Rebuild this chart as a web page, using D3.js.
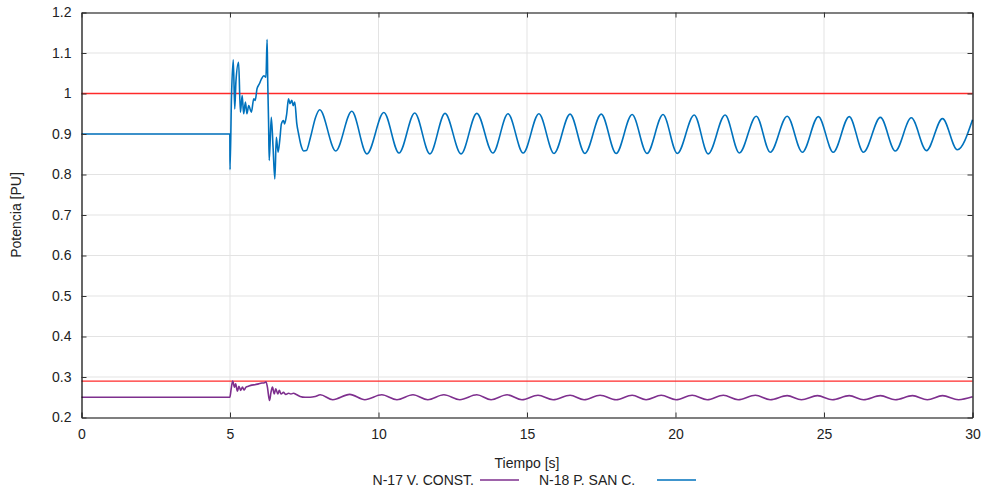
<!DOCTYPE html>
<html>
<head>
<meta charset="utf-8">
<script src="https://cdn.jsdelivr.net/npm/d3@7/dist/d3.min.js"></script>
<style>
  html, body { margin: 0; padding: 0; background: #fff; }
  svg text { font-family: "Liberation Sans", Arial, sans-serif; fill: #222; }
</style>
</head>
<body>
<svg id="chart" width="985" height="491"></svg>
<script>
// ---- data ----
const xTicks = [0, 5, 10, 15, 20, 25, 30];
const yTicks = [0.2, 0.3, 0.4, 0.5, 0.6, 0.7, 0.8, 0.9, 1, 1.1, 1.2];
const limitLines = [1.0, 0.29];
const seriesNames = ["N-17 V. CONST.", "N-18 P. SAN C."];

// N-18 P. SAN C. (blue): pre-fault + transient samples
const blueTransient = [
  [0, 0.9], [4.995, 0.9], [5.0, 0.812], [5.05, 0.991], [5.11, 1.083], [5.16, 0.962],
  [5.2, 1.03], [5.29, 1.077], [5.35, 0.954], [5.41, 0.995], [5.46, 0.95], [5.52, 0.979],
  [5.57, 0.95], [5.63, 0.97], [5.72, 0.954], [5.80, 0.987], [5.85, 0.983], [5.91, 1.012],
  [5.99, 1.024], [6.06, 1.036], [6.14, 1.044], [6.21, 1.040], [6.25, 1.133], [6.27, 1.032],
  [6.30, 0.925], [6.32, 0.835], [6.39, 0.941], [6.45, 0.867], [6.51, 0.789], [6.56, 0.892],
  [6.62, 0.855], [6.68, 0.888], [6.73, 0.925], [6.80, 0.933], [6.84, 0.925], [6.91, 0.950],
  [6.97, 0.987], [7.02, 0.975], [7.08, 0.983], [7.13, 0.970], [7.18, 0.979], [7.25, 0.925],
  [7.31, 0.900], [7.39, 0.872], [7.48, 0.858], [7.57, 0.859], [7.71, 0.892], [7.88, 0.941]
];
// blue oscillation extrema (time, value)
const bluePeaks = [
  [8.02, 0.960], [9.10, 0.956], [10.18, 0.953], [11.22, 0.952], [12.24, 0.951], [13.31, 0.951],
  [14.36, 0.950], [15.40, 0.950], [16.45, 0.949], [17.50, 0.949], [18.54, 0.948], [19.58, 0.948],
  [20.63, 0.947], [21.67, 0.947], [22.72, 0.944], [23.76, 0.944], [24.81, 0.943], [25.85, 0.943],
  [26.90, 0.941], [27.94, 0.940], [28.99, 0.938]
];
const blueTroughs = [
  [8.56, 0.858], [9.61, 0.851], [10.69, 0.853], [11.73, 0.851], [12.78, 0.851], [13.85, 0.853],
  [14.87, 0.853], [15.91, 0.852], [16.95, 0.852], [18.00, 0.852], [19.04, 0.852], [20.06, 0.852],
  [21.10, 0.851], [22.15, 0.853], [23.19, 0.855], [24.27, 0.855], [25.31, 0.855], [26.33, 0.855],
  [27.40, 0.858], [28.45, 0.859], [29.49, 0.861]
];
const blueEnd = [[30, 0.935]];

// N-17 V. CONST. (purple)
const purpleTransient = [
  [0, 0.25], [4.995, 0.25], [5.04, 0.271], [5.09, 0.29], [5.15, 0.275], [5.19, 0.283],
  [5.25, 0.265], [5.30, 0.277], [5.36, 0.267], [5.42, 0.275], [5.47, 0.268], [5.54, 0.275],
  [5.62, 0.277], [5.73, 0.28], [5.84, 0.281], [5.96, 0.283], [6.07, 0.285], [6.16, 0.286],
  [6.21, 0.288], [6.26, 0.275], [6.33, 0.242], [6.38, 0.262], [6.43, 0.275], [6.49, 0.258],
  [6.54, 0.271], [6.61, 0.258], [6.66, 0.267], [6.72, 0.258], [6.80, 0.262], [6.88, 0.257],
  [6.97, 0.260], [7.05, 0.258], [7.14, 0.260], [7.23, 0.257], [7.36, 0.252], [7.53, 0.250],
  [7.70, 0.250], [7.87, 0.252], [8.04, 0.256]
];
const purplePeaks = [
  [9.03, 0.257], [10.11, 0.256], [11.16, 0.256], [12.20, 0.256], [13.31, 0.256], [14.33, 0.256],
  [15.37, 0.255], [16.45, 0.255], [17.46, 0.255], [18.54, 0.255], [19.52, 0.255], [20.56, 0.255],
  [21.61, 0.255], [22.69, 0.255], [23.76, 0.254], [24.78, 0.254], [25.85, 0.254], [26.90, 0.254],
  [27.98, 0.254], [28.99, 0.254]
];
const purpleTroughs = [
  [8.46, 0.244], [9.54, 0.244], [10.62, 0.244], [11.66, 0.244], [12.74, 0.244], [13.79, 0.244],
  [14.83, 0.244], [15.88, 0.244], [16.92, 0.244], [18.00, 0.244], [19.01, 0.244], [20.02, 0.244],
  [21.07, 0.244], [22.11, 0.244], [23.19, 0.244], [24.24, 0.244], [25.28, 0.244], [26.33, 0.244],
  [27.40, 0.244], [28.48, 0.244], [29.53, 0.244]
];
const purpleEnd = [[30, 0.251]];

// ---- build series ----
const byT = (a, b) => a[0] - b[0];
const blueData = blueTransient.concat(bluePeaks, blueTroughs, blueEnd).sort(byT);
const purpleData = purpleTransient.concat(purplePeaks, purpleTroughs, purpleEnd).sort(byT);

const colors = { purple: "#7e2f8e", blue: "#0072bd", red: "#ff2a2a" };

// ---- layout ----
const svg = d3.select("#chart");
const m = { left: 81.5, right: 972.5, top: 12.5, bottom: 417.5 };
const x = d3.scaleLinear().domain([0, 30]).range([m.left, m.right]);
const y = d3.scaleLinear().domain([0.2, 1.2]).range([m.bottom, m.top]);

// grid
const g = svg.append("g");
g.selectAll("line.vg").data(xTicks.slice(1, -1)).join("line")
  .attr("x1", d => x(d)).attr("x2", d => x(d)).attr("y1", m.top).attr("y2", m.bottom)
  .attr("stroke", "#e3e3e3").attr("stroke-width", 1);
g.selectAll("line.hg").data(yTicks.slice(1, -1)).join("line")
  .attr("y1", d => y(d)).attr("y2", d => y(d)).attr("x1", m.left).attr("x2", m.right)
  .attr("stroke", "#e3e3e3").attr("stroke-width", 1);

// limit lines
g.selectAll("line.lim").data(limitLines).join("line")
  .attr("x1", m.left).attr("x2", m.right).attr("y1", d => y(d)).attr("y2", d => y(d))
  .attr("stroke", colors.red).attr("stroke-width", 1.3);

// series
const line = d3.line().x(d => x(d[0])).y(d => y(d[1])).curve(d3.curveMonotoneX);
svg.append("path").datum(purpleData).attr("d", line)
  .attr("fill", "none").attr("stroke", colors.purple).attr("stroke-width", 1.6);
svg.append("path").datum(blueData).attr("d", line)
  .attr("fill", "none").attr("stroke", colors.blue).attr("stroke-width", 1.6);

// axes (inward ticks)
const fmt = d => d3.format("")(Math.round(d * 10) / 10);
const axB = svg.append("g").attr("transform", `translate(0,${m.bottom})`)
  .call(d3.axisBottom(x).tickValues(xTicks).tickSizeInner(-5).tickSizeOuter(0).tickPadding(12).tickFormat(d3.format("d")));
const axL = svg.append("g").attr("transform", `translate(${m.left},0)`)
  .call(d3.axisLeft(y).tickValues(yTicks).tickSizeInner(-5).tickSizeOuter(0).tickPadding(10).tickFormat(fmt));
const axT = svg.append("g").attr("transform", `translate(0,${m.top})`)
  .call(d3.axisTop(x).tickValues(xTicks).tickSizeInner(-5).tickSizeOuter(0).tickFormat(""));
const axR = svg.append("g").attr("transform", `translate(${m.right},0)`)
  .call(d3.axisRight(y).tickValues(yTicks).tickSizeInner(-5).tickSizeOuter(0).tickFormat(""));
[axB, axL, axT, axR].forEach(a => {
  a.select(".domain").attr("stroke", "#000").attr("stroke-width", 1.2);
  a.selectAll(".tick line").attr("stroke", "#333");
  a.selectAll("text").attr("font-size", 14).attr("font-family", "Liberation Sans, Arial, sans-serif").attr("fill", "#222");
});

// axis titles
svg.append("text").attr("x", 527).attr("y", 468).attr("text-anchor", "middle")
  .attr("font-size", 14).text("Tiempo [s]");
svg.append("text").attr("transform", "translate(21,215) rotate(-90)").attr("text-anchor", "middle")
  .attr("font-size", 14).text("Potencia [PU]");

// legend
const legend = svg.append("g");
legend.append("text").attr("x", 474).attr("y", 485).attr("text-anchor", "end")
  .attr("font-size", 14).text(seriesNames[0]);
legend.append("line").attr("x1", 480).attr("x2", 519).attr("y1", 480).attr("y2", 480)
  .attr("stroke", colors.purple).attr("stroke-width", 1.6);
legend.append("text").attr("x", 539).attr("y", 485).attr("text-anchor", "start")
  .attr("font-size", 14).text(seriesNames[1]);
legend.append("line").attr("x1", 657).attr("x2", 696).attr("y1", 480).attr("y2", 480)
  .attr("stroke", colors.blue).attr("stroke-width", 1.6);
</script>
</body>
</html>
